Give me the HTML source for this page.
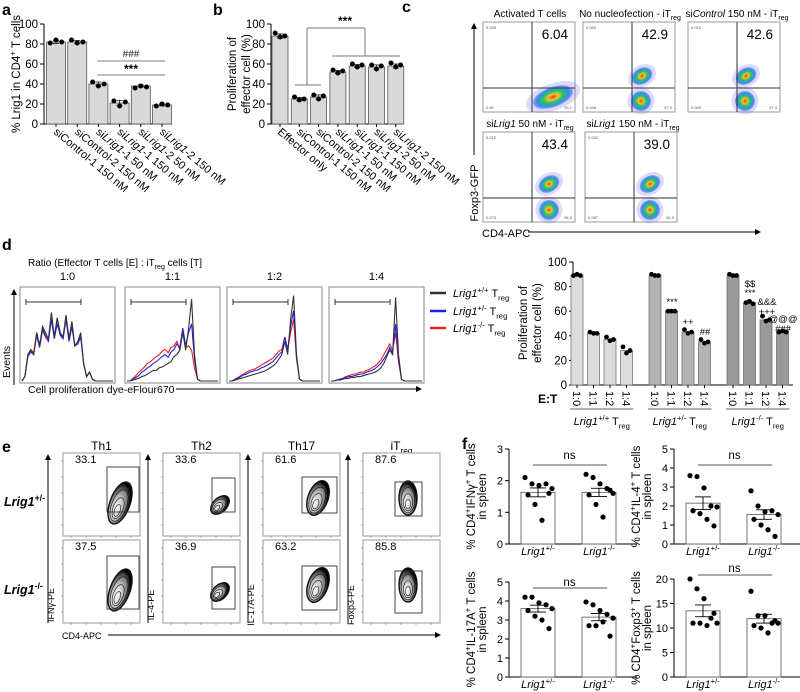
<!DOCTYPE html>
<html><head><meta charset="utf-8"><style>
html,body{margin:0;padding:0;background:#fff;}
svg{display:block;font-family:"Liberation Sans",Arial,sans-serif;}
</style></head><body>
<svg id="fig" width="800" height="692" viewBox="0 0 800 692" xmlns="http://www.w3.org/2000/svg">
<defs>
<radialGradient id="flow" cx="50%" cy="50%" r="50%">
<stop offset="0" stop-color="#e8331c"/><stop offset="0.25" stop-color="#f1c232"/><stop offset="0.5" stop-color="#35c25a"/><stop offset="0.75" stop-color="#1e9be0"/><stop offset="1" stop-color="#3a3ae0" stop-opacity="0.35"/>
</radialGradient>
<radialGradient id="cont" cx="40%" cy="65%" r="60%">
<stop offset="0" stop-color="#fff"/><stop offset="0.5" stop-color="#aaa"/><stop offset="0.85" stop-color="#444"/><stop offset="1" stop-color="#000"/>
</radialGradient>
<marker id="arr" markerWidth="6" markerHeight="6" refX="5" refY="3" orient="auto"><path d="M0,0 L6,3 L0,6 z" fill="#000"/></marker>
</defs>
</svg>
<script>
// ---------- DATA ----------
const aCats=["siControl-1 150 nM","siControl-2 150 nM","siLrig1-1 50 nM","siLrig1-1 150 nM","siLrig1-2 50 nM","siLrig1-2 150 nM"];
const aVals=[82,82,40,21,38,19];
const aDots=[[81,84,82],[84,81,82],[42,38,40],[23,18,22],[36,38,37],[18,20,19]];
const aTicks=[0,20,40,60,80,100];
const bCats=["Effector only","siControl-1 150 nM","siControl-2 150 nM","siLrig1-1 50 nM","siLrig1-1 150 nM","siLrig1-2 50 nM","siLrig1-2 150 nM"];
const bVals=[88,25,27,52,58,57,58];
const bDots=[[91,87,88],[27,24,25],[29,25,28],[54,51,53],[60,57,59],[59,55,58],[61,57,59]];
const dRatios=["1:0","1:1","1:2","1:4"];
const dGroups=["+/+","+/-","-/-"];
const dVals=[[89,42,37,28],[89,60,43,35],[89,67,53,43]];
const dDots=[[[89,90,89],[43,42,42],[39,36,37],[31,26,28]],[[90,89,89],[60,60,60],[45,42,43],[37,34,35]],[[90,89,89],[67,68,66],[56,52,53],[43,44,43]]];
const dTicks=[0,20,40,60,80,100];
const hBlack=[
[0,0.05,0.3,0.35,0.3,0.55,0.4,0.62,0.55,0.48,0.78,0.5,0.72,0.55,0.5,0.75,0.48,0.68,0.4,0.45,0.55,0.2,0.05,0.1,0.02,0,0,0,0,0,0,0],
[0,0,0.01,0.02,0.03,0.05,0.06,0.08,0.1,0.12,0.12,0.15,0.16,0.18,0.2,0.22,0.28,0.3,0.35,0.55,0.35,0.6,0.93,0.3,0.02,0,0,0,0,0,0,0],
[0,0,0.01,0.02,0.03,0.04,0.05,0.06,0.07,0.08,0.09,0.1,0.11,0.13,0.15,0.17,0.2,0.25,0.3,0.45,0.3,0.7,0.97,0.3,0.02,0,0,0,0,0,0,0],
[0,0,0.01,0.01,0.02,0.03,0.03,0.04,0.04,0.05,0.05,0.06,0.07,0.08,0.09,0.1,0.12,0.15,0.2,0.28,0.35,0.3,0.95,0.3,0.02,0,0,0,0,0,0,0]];
const hBlue=[
[0,0.05,0.28,0.33,0.3,0.52,0.38,0.58,0.5,0.45,0.7,0.48,0.65,0.52,0.48,0.7,0.45,0.62,0.4,0.42,0.5,0.2,0.05,0.1,0.02,0,0,0,0,0,0,0],
[0,0,0.02,0.04,0.06,0.1,0.12,0.15,0.17,0.2,0.22,0.25,0.28,0.3,0.27,0.33,0.36,0.42,0.38,0.6,0.4,0.55,0.65,0.25,0.02,0,0,0,0,0,0,0],
[0,0,0.02,0.03,0.05,0.07,0.08,0.1,0.11,0.12,0.13,0.15,0.16,0.18,0.2,0.22,0.26,0.3,0.33,0.5,0.35,0.62,0.8,0.28,0.02,0,0,0,0,0,0,0],
[0,0,0.01,0.02,0.03,0.04,0.05,0.05,0.06,0.07,0.08,0.08,0.1,0.11,0.12,0.14,0.17,0.2,0.25,0.3,0.38,0.32,0.65,0.25,0.02,0,0,0,0,0,0,0]];
const hRed=[
[0,0.05,0.3,0.36,0.32,0.55,0.4,0.6,0.52,0.47,0.74,0.5,0.7,0.53,0.5,0.72,0.46,0.62,0.4,0.43,0.52,0.2,0.05,0.1,0.02,0,0,0,0,0,0,0],
[0,0,0.03,0.06,0.1,0.13,0.16,0.2,0.22,0.25,0.28,0.3,0.34,0.36,0.32,0.38,0.4,0.45,0.35,0.6,0.38,0.4,0.35,0.15,0.02,0,0,0,0,0,0,0],
[0,0,0.02,0.04,0.06,0.08,0.1,0.12,0.13,0.14,0.16,0.18,0.2,0.22,0.24,0.26,0.3,0.34,0.36,0.5,0.36,0.55,0.7,0.25,0.02,0,0,0,0,0,0,0],
[0,0,0.01,0.02,0.03,0.05,0.06,0.07,0.08,0.09,0.1,0.1,0.12,0.13,0.15,0.17,0.2,0.24,0.3,0.36,0.42,0.35,0.55,0.22,0.02,0,0,0,0,0,0,0]];
const eNums=[["33.1","33.6","61.6","87.6"],["37.5","36.9","63.2","85.8"]];
const f1Vals=[1.63,1.63], f1Sem=[0.14,0.13], f1Dots=[[2.1,1.9,1.85,1.9,1.75,1.55,1.25,0.75,1.6],[2.2,2.1,1.9,1.75,1.6,1.55,1.25,0.85,1.7]], f1Ticks=[0,1,2,3];
const f2Vals=[2.15,1.55], f2Sem=[0.33,0.25], f2Dots=[[3.6,3.55,2.95,2.0,1.95,1.75,1.6,1.3,0.95],[2.8,2.0,1.7,1.75,1.55,1.3,1.0,0.75,0.4]], f2Ticks=[0,1,2,3,4,5];
const f3Vals=[3.6,3.15], f3Sem=[0.18,0.19], f3Dots=[[4.2,4.2,3.9,3.8,3.6,3.5,3.2,3.0,2.55],[3.95,3.8,3.5,3.3,3.1,2.7,2.7,2.9,2.15]], f3Ticks=[0,1,2,3,4,5];
const f4Vals=[13.5,11.9], f4Sem=[1.2,0.9], f4Dots=[[20,18,16,12,11,11,11,10.5,13],[17.5,12.5,12.5,11,11,10.5,10,9,11.5]], f4Ticks=[0,5,10,15,20];

// ---------- HELPERS ----------
const NS='http://www.w3.org/2000/svg';
const svg=document.getElementById('fig');
function mk(tag,attrs,name,parent){
  const e=document.createElementNS(NS,tag);
  for(const k in attrs) e.setAttribute(k,attrs[k]);
  
  
  (parent||svg).appendChild(e); return e;
}
function ln(x1,y1,x2,y2,name,o){o=o||{};return mk('line',{x1:x1,y1:y1,x2:x2,y2:y2,stroke:o.c||'#000','stroke-width':o.w||1,'marker-end':o.arrow?'url(#arr)':'none'},name);}
function rich(x,y,parts,name,o){
  o=o||{}; const size=o.size||11;
  const t=mk('text',{x:x,y:y,'font-size':size,'text-anchor':o.anchor||'start','font-weight':o.bold?'bold':'normal',fill:o.fill||'#000'},name);
  if(o.rot) t.setAttribute('transform','rotate('+o.rot+' '+x+' '+y+')');
  let shift=0;
  (typeof parts==='string'?[parts]:parts).forEach(p=>{
    if(typeof p==='string') p={t:p};
    const s=document.createElementNS(NS,'tspan');
    
    
    const target=p.sup?-0.4:p.sub?0.3:0;
    if(target!==shift) s.setAttribute('dy',((target-shift)*size).toFixed(2));
    shift=target;
    if(p.sup||p.sub) s.setAttribute('font-size',size*0.7);
    if(p.i||o.italic) s.setAttribute('font-style','italic');
    s.textContent=p.t; t.appendChild(s);
  });
  return t;
}
function catParts(c){
  const m=c.match(/^si(Lrig1)(.*)$/);
  if(m) return ['si',{t:'Lrig1',i:1},m[2]];
  return [c];
}
function sd(a){const m=a.reduce((s,v)=>s+v,0)/a.length;return Math.sqrt(a.reduce((s,v)=>s+(v-m)*(v-m),0)/(a.length-1));}

// ---------- PANEL A / B ----------
function smallBar(p){
  const ys=v=>p.y0-(v-0)/(p.max)*(p.y0-p.yTop);
  ln(p.ax,p.yTop,p.ax,p.y0,p.id+'-y-axis');
  ln(p.ax,p.y0,p.ax+p.xLen,p.y0,p.id+'-x-axis');
  p.ticks.forEach(t=>{ln(p.ax-4,ys(t),p.ax,ys(t),p.id+'-y-tick');rich(p.ax-6,ys(t)+4,String(t),p.id+'-y-tick-label',{anchor:'end',size:11.5});});
  p.vals.forEach((v,i)=>{
    const cx=p.c0+p.step*i;
    mk('rect',{x:cx-p.bw/2,y:ys(v),width:p.bw,height:p.y0-ys(v),fill:p.fill||'#d9d9d9',stroke:'#555','stroke-width':0.8},p.id+'-bar');
    ln(cx,p.y0,cx,p.y0+3,p.id+'-x-tick');
    const s=sd(p.dots[i]);
    ln(cx,ys(v+s),cx,ys(v-s),p.id+'-error-bar',{w:0.7});
    ln(cx-3,ys(v+s),cx+3,ys(v+s),p.id+'-error-cap',{w:0.7});
    ln(cx-3,ys(v-s),cx+3,ys(v-s),p.id+'-error-cap',{w:0.7});
    p.dots[i].forEach((d,j)=>mk('circle',{cx:cx+(j-1)*p.bw*0.3,cy:ys(d),r:p.r||2.5,fill:'#000'},p.id+'-dot'));
    if(p.cats){const lx=cx-3,ly=p.y0+9;rich(lx,ly,catParts(p.cats[i]),p.id+'-x-label',{size:11,rot:40});}
  });
}
rich(2,15,'a','panel-a-label',{size:16,bold:true});
smallBar({id:'a',ax:44,y0:124,yTop:24,max:100,ticks:aTicks,vals:aVals,dots:aDots,cats:aCats,c0:56,step:21.2,bw:19,xLen:128});
rich(20,74,['% Lrig1 in CD4',{t:'+',sup:1},' T cells'],'a-y-title',{size:11.5,anchor:'middle',rot:-90});
rich(131,57,'###','a-sig-hash',{anchor:'middle',size:10,fill:'#222'});
ln(97,61,165,61,'a-sig-line-1',{c:'#999',w:1.2});
rich(131,73,'***','a-sig-star',{anchor:'middle',size:12,bold:true});
ln(97,75,165,75,'a-sig-line-2',{c:'#999',w:1.2});

rich(213,15,'b','panel-b-label',{size:16,bold:true});
smallBar({id:'b',ax:271,y0:124,yTop:24,max:100,ticks:aTicks,vals:bVals,dots:bDots,cats:bCats,c0:280,step:19.3,bw:16,xLen:132});
rich(236,74,'Proliferation of','b-y-title-1',{size:11.5,anchor:'middle',rot:-90});
rich(250,74,'effector cell (%)','b-y-title-2',{size:11.5,anchor:'middle',rot:-90});
rich(345,25,'***','b-sig-star',{anchor:'middle',size:12,bold:true});
ln(307,28,365,28,'b-bracket-top',{c:'#777'});ln(307,28,307,85,'b-bracket-left',{c:'#777'});
ln(295,85,321,85,'b-bracket-control',{c:'#777'});ln(365,28,365,56,'b-bracket-right',{c:'#777'});
ln(332,56,400,56,'b-bracket-lrig1',{c:'#777'});

// ---------- PANEL C ----------
rich(402,12,'c','panel-c-label',{size:16,bold:true});
const cBoxes=[
 {x:483,y:22,t:['Activated T cells'],tx:530,n:'6.04',c:['0.045','0.80','93.1'],cl:[[553,97,21,10,-20]]},
 {x:583,y:22,t:['No nucleofection - iT',{t:'reg',sub:1}],tx:630,n:'42.9',c:['0.080','0.038','57.0'],cl:[[642,76,11,8,-30],[641,101,10,10,-40]]},
 {x:688,y:22,t:['si',{t:'Control',i:1},' 150 nM - iT',{t:'reg',sub:1}],tx:737,n:'42.6',c:['0.012','0.049','57.3'],cl:[[746,76,11,8,-30],[745,101,10,10,-40]]},
 {x:483,y:132,t:['si',{t:'Lrig1',i:1},' 50 nM  - iT',{t:'reg',sub:1}],tx:530,n:'43.4',c:['0.012','0.073','56.5'],cl:[[549,184,11,8,-30],[549,210,10,10,-40]]},
 {x:585,y:132,t:['si',{t:'Lrig1',i:1},' 150 nM - iT',{t:'reg',sub:1}],tx:633,n:'39.0',c:['0.033','0.087','60.9'],cl:[[650,184,11,8,-30],[650,210,10,10,-40]]}];
cBoxes.forEach(b=>{
  const w=92,h=90;
  mk('rect',{x:b.x,y:b.y,width:w,height:h,fill:'#fff',stroke:'#999','stroke-width':1},'c-plot-frame');
  b.cl.forEach(c=>{
    mk('ellipse',{cx:c[0],cy:c[1],rx:c[2]*1.35,ry:c[3]*1.35,fill:'#6a6af0','fill-opacity':0.25,transform:'rotate('+c[4]+' '+c[0]+' '+c[1]+')'},'c-cell-scatter');
    mk('ellipse',{cx:c[0],cy:c[1],rx:c[2],ry:c[3],fill:'url(#flow)',transform:'rotate('+c[4]+' '+c[0]+' '+c[1]+')'},'c-cell-density');
  });
  ln(b.x+49,b.y,b.x+49,b.y+h,'c-quadrant-vertical',{c:'#333'});
  ln(b.x,b.y+66,b.x+w,b.y+66,'c-quadrant-horizontal',{c:'#333'});
  rich(b.x+85,b.y+17,b.n,'c-percent-value',{size:13.5,anchor:'end'});
  rich(b.x+3,b.y+7,b.c[0],'c-corner-value',{size:4,fill:'#555'});
  rich(b.x+3,b.y+h-3,b.c[1],'c-corner-value',{size:4,fill:'#555'});
  rich(b.x+w-3,b.y+h-3,b.c[2],'c-corner-value',{size:4,fill:'#555',anchor:'end'});
  rich(b.tx,b.y-5,b.t,'c-plot-title',{size:10,anchor:'middle'});
});
ln(474,155,474,24,'c-y-arrow',{arrow:true});
rich(478,193,'Foxp3-GFP','c-y-title',{size:11,anchor:'middle',rot:-90});
rich(482,237,'CD4-APC','c-x-title',{size:11});
ln(528,232,760,232,'c-x-arrow',{arrow:true});

// ---------- PANEL D HISTOGRAMS ----------
rich(2,250,'d','panel-d-label',{size:16,bold:true});
rich(28,266,['Ratio (Effector T cells [E] : iT',{t:'reg',sub:1},' cells [T]'],'d-ratio-title',{size:10});
const hx=[20,125,227,329];
dRatios.forEach((r,k)=>{
  const x0=hx[k],w=95,y0=383,top=287;
  mk('rect',{x:x0,y:top,width:w,height:y0-top,fill:'#fff',stroke:'#888'},'d-histogram-frame');
  rich(x0+w/2,280,r,'d-ratio-label',{size:11,anchor:'middle'});
  [[hRed,'#ee2020'],[hBlue,'#2020ee'],[hBlack,'#333']].forEach(([arr,col])=>{
    const pts=arr[k].map((v,i)=>(x0+2+i/(arr[k].length-1)*(w-4)).toFixed(1)+','+(y0-2-v*88).toFixed(1)).join(' ');
    mk('polyline',{points:pts,fill:'none',stroke:col,'stroke-width':1.1},'d-histogram-line');
  });
  ln(x0+6,302,x0+61,302,'d-gate-bar',{c:'#333'});
  ln(x0+6,299,x0+6,305,'d-gate-cap',{c:'#333'});ln(x0+61,299,x0+61,305,'d-gate-cap',{c:'#333'});
});
ln(14,385,14,290,'d-y-arrow',{arrow:true});
rich(10,362,'Events','d-y-title',{size:10.5,anchor:'middle',rot:-90});
rich(28,393,'Cell proliferation dye-eFlour670','d-x-title',{size:10.5});
ln(176,389,421,389,'d-x-arrow',{arrow:true});
[['+/+','#333',293],['+/-','#2020ee',311],['-/-','#ee2020',328]].forEach(l=>{
  ln(430,l[2],446,l[2],'legend-swatch',{c:l[1],w:2.5});
  rich(453,l[2]+4,[{t:'Lrig1',i:1},{t:l[0],sup:1},' T',{t:'reg',sub:1}],'legend-entry',{size:11});
});

// ---------- PANEL D BAR CHART ----------
(function(){
  const ax=573,y0=385,yTop=262,ys=v=>y0-v/100*(y0-yTop);
  const fills=['#dcdcdc','#b3b3b3','#9a9a9a'];
  const g0=[577,655,733],step=16.5,bw=12;
  ln(ax,yTop,ax,y0,'d-y-axis');ln(ax,y0,793,y0,'d-x-axis');
  dTicks.forEach(t=>{ln(ax-4,ys(t),ax,ys(t),'d-y-tick');rich(ax-6,ys(t)+4,String(t),'d-y-tick-label',{size:11.5,anchor:'end'});});
  dVals.forEach((g,gi)=>{
    g.forEach((v,i)=>{
      const cx=g0[gi]+step*i;
      mk('rect',{x:cx-bw/2,y:ys(v),width:bw,height:y0-ys(v),fill:fills[gi],stroke:'#666','stroke-width':0.7},'d-bar');
      ln(cx,y0,cx,y0+3,'d-x-tick');
      dDots[gi][i].forEach((d,j)=>mk('circle',{cx:cx+(j-1)*3.5,cy:ys(d),r:2.4,fill:'#000'},'d-dot'));
      rich(cx-4,y0+6,dRatios[i],'d-x-tick-label',{size:11,rot:90});
    });
    const a=g0[gi]-7,b=g0[gi]+step*3+7;
    ln(a,409,b,409,'d-group-line',{c:'#333',w:0.8});
    rich((a+b)/2,425,[{t:'Lrig1',i:1},{t:dGroups[gi],sup:1},' T',{t:'reg',sub:1}],'d-group-label',{size:11,anchor:'middle'});
  });
  rich(538,403,'E:T','d-et-label',{size:12,bold:true});
  rich(527,323,'Proliferation of','d-y-title-1',{size:11.5,anchor:'middle',rot:-90});
  rich(541,323,'effector cell (%)','d-y-title-2',{size:11.5,anchor:'middle',rot:-90});
  const ann=[['***',672,305],['++',688,325],['##',705,335],['$$',750,287],['***',750,296],['&&&',767,305],['+++',767,315],['@@@',783,322],['###',783,332]];
  ann.forEach(a=>rich(a[1],a[2],a[0],'d-significance',{size:9.5,anchor:'middle'}));
})();

// ---------- PANEL E ----------
rich(2,452,'e','panel-e-label',{size:16,bold:true});
const eTitles=[['Th1'],['Th2'],['Th17'],['iT',{t:'reg',sub:1}]];
const eX=[63,163,263,363],eW=77;
const eY=['IFNγ-PE','IL-4-PE','IL-17A-PE','Foxp3-PE'];
const eGate=[[44,14,32,45],[49,25,23,34],[39,24,35,36],[32,29,27,34]];
const eBlob=[[57,50,10,22,20],[57,52,7,11,45],[55,45,10,18,20],[45,45,9,17,0]];
eTitles.forEach((t,k)=>{
  rich(eX[k]+eW/2,450,t,'e-column-title',{size:12,anchor:'middle'});
  ln(eX[k]-15,623,eX[k]-15,455,'e-y-arrow',{arrow:true});
  rich(eX[k]-9,605,eY[k],'e-y-title',{size:9,anchor:'middle',rot:-90});
  [453,540].forEach((y,r)=>{
    mk('rect',{x:eX[k],y:y,width:eW,height:83,fill:'#fff',stroke:'#999'},'e-plot-frame');
    const g=eGate[k],bl=eBlob[k],gy=y+g[1]+(r?2:0);
    const cx=eX[k]+bl[0],cy=y+bl[1];
    [1,0.75,0.5,0.28].forEach((s,si)=>mk('ellipse',{cx:cx,cy:cy+(1-s)*bl[3]*0.5,rx:bl[2]*s,ry:bl[3]*s,fill:si?'#fff':'url(#cont)','fill-opacity':si?0.15:1,stroke:'#111','stroke-width':si?0.6:1.4,transform:'rotate('+bl[4]+' '+cx+' '+cy+')'},'e-contour'));
    mk('rect',{x:eX[k]+g[0],y:gy,width:g[2],height:g[3]+(r?8:0),fill:'none',stroke:'#333','stroke-width':0.9},'e-gate');
    rich(eX[k]+12,y+10,eNums[r][k],'e-gate-percent',{size:11});
    for(let i=0;i<5;i++){ln(eX[k]+8+i*15,y+83,eX[k]+8+i*15,y+85,'e-axis-tick',{w:0.5,c:'#666'});ln(eX[k]-2,y+8+i*16,eX[k],y+8+i*16,'e-axis-tick',{w:0.5,c:'#666'});}
  });
});
rich(4,506,[{t:'Lrig1',i:1},{t:'+/-',sup:1}],'e-row-label-het',{size:12.5,bold:true});
rich(4,594,[{t:'Lrig1',i:1},{t:'-/-',sup:1}],'e-row-label-ko',{size:12.5,bold:true});
rich(62,639,'CD4-APC','e-x-title',{size:9});
ln(108,635,440,635,'e-x-arrow',{arrow:true});

// ---------- PANEL F ----------
rich(462,449,'f','panel-f-label',{size:16,bold:true});
function fPanel(id,ax,y0,yTop,max,ticks,vals,sem,dots,title,nsY,lineY){
  const ys=v=>y0-v/max*(y0-yTop);
  const cs=[ax+29,ax+90];
  ln(ax,yTop,ax,y0,id+'-y-axis');ln(ax,y0,ax+128,y0,id+'-x-axis');
  ticks.forEach(t=>{ln(ax-4,ys(t),ax,ys(t),id+'-y-tick');rich(ax-6,ys(t)+4,String(t),id+'-y-tick-label',{size:11,anchor:'end'});});
  const lab=['+/-','-/-'];
  vals.forEach((v,i)=>{
    const cx=cs[i];
    mk('rect',{x:cx-17,y:ys(v),width:34,height:y0-ys(v),fill:'#fff',stroke:'#666','stroke-width':0.9},id+'-bar');
    ln(cx,ys(v+sem[i]),cx,ys(v-sem[i]),id+'-error-bar',{w:0.9});
    ln(cx-8,ys(v+sem[i]),cx+8,ys(v+sem[i]),id+'-error-cap',{w:0.9});
    ln(cx-8,ys(v-sem[i]),cx+8,ys(v-sem[i]),id+'-error-cap',{w:0.9});
    const off=[-13,-6,1,8,14,-10,-3,4,11];
    dots[i].forEach((d,j)=>mk('circle',{cx:cx+off[j],cy:ys(d),r:2.6,fill:'#000'},id+'-dot'));
    rich(cx,y0+11,[{t:'Lrig1',i:1},{t:lab[i],sup:1}],id+'-x-label',{size:11,anchor:'middle'});
  });
  ln(cs[0]-5,lineY,cs[1]+8,lineY,id+'-ns-line',{c:'#555'});
  rich((cs[0]+cs[1])/2+1,nsY,'ns','ns-label-'+id,{size:11.5,anchor:'middle'});
  const my=(y0+yTop)/2;
  rich(ax-34,my,title,id+'-y-title-1',{size:11.5,anchor:'middle',rot:-90});
  rich(ax-23,my,'in spleen',id+'-y-title-2',{size:11.5,anchor:'middle',rot:-90});
}
fPanel('f1',509,544,449,3,f1Ticks,f1Vals,f1Sem,f1Dots,['% CD4',{t:'+',sup:1},'IFNγ',{t:'+',sup:1},' T cells'],459,465);
fPanel('f2',674,544,449,5,f2Ticks,f2Vals,f2Sem,f2Dots,['% CD4',{t:'+',sup:1},'IL-4',{t:'+',sup:1},' T cells'],459,465);
fPanel('f3',509,677,582,5,f3Ticks,f3Vals,f3Sem,f3Dots,['% CD4',{t:'+',sup:1},'IL-17A',{t:'+',sup:1},' T cells'],586,588);
fPanel('f4',674,677,579,20,f4Ticks,f4Vals,f4Sem,f4Dots,['% CD4',{t:'+',sup:1},'Foxp3',{t:'+',sup:1},' T cells'],572,575);
</script>
</body></html>
